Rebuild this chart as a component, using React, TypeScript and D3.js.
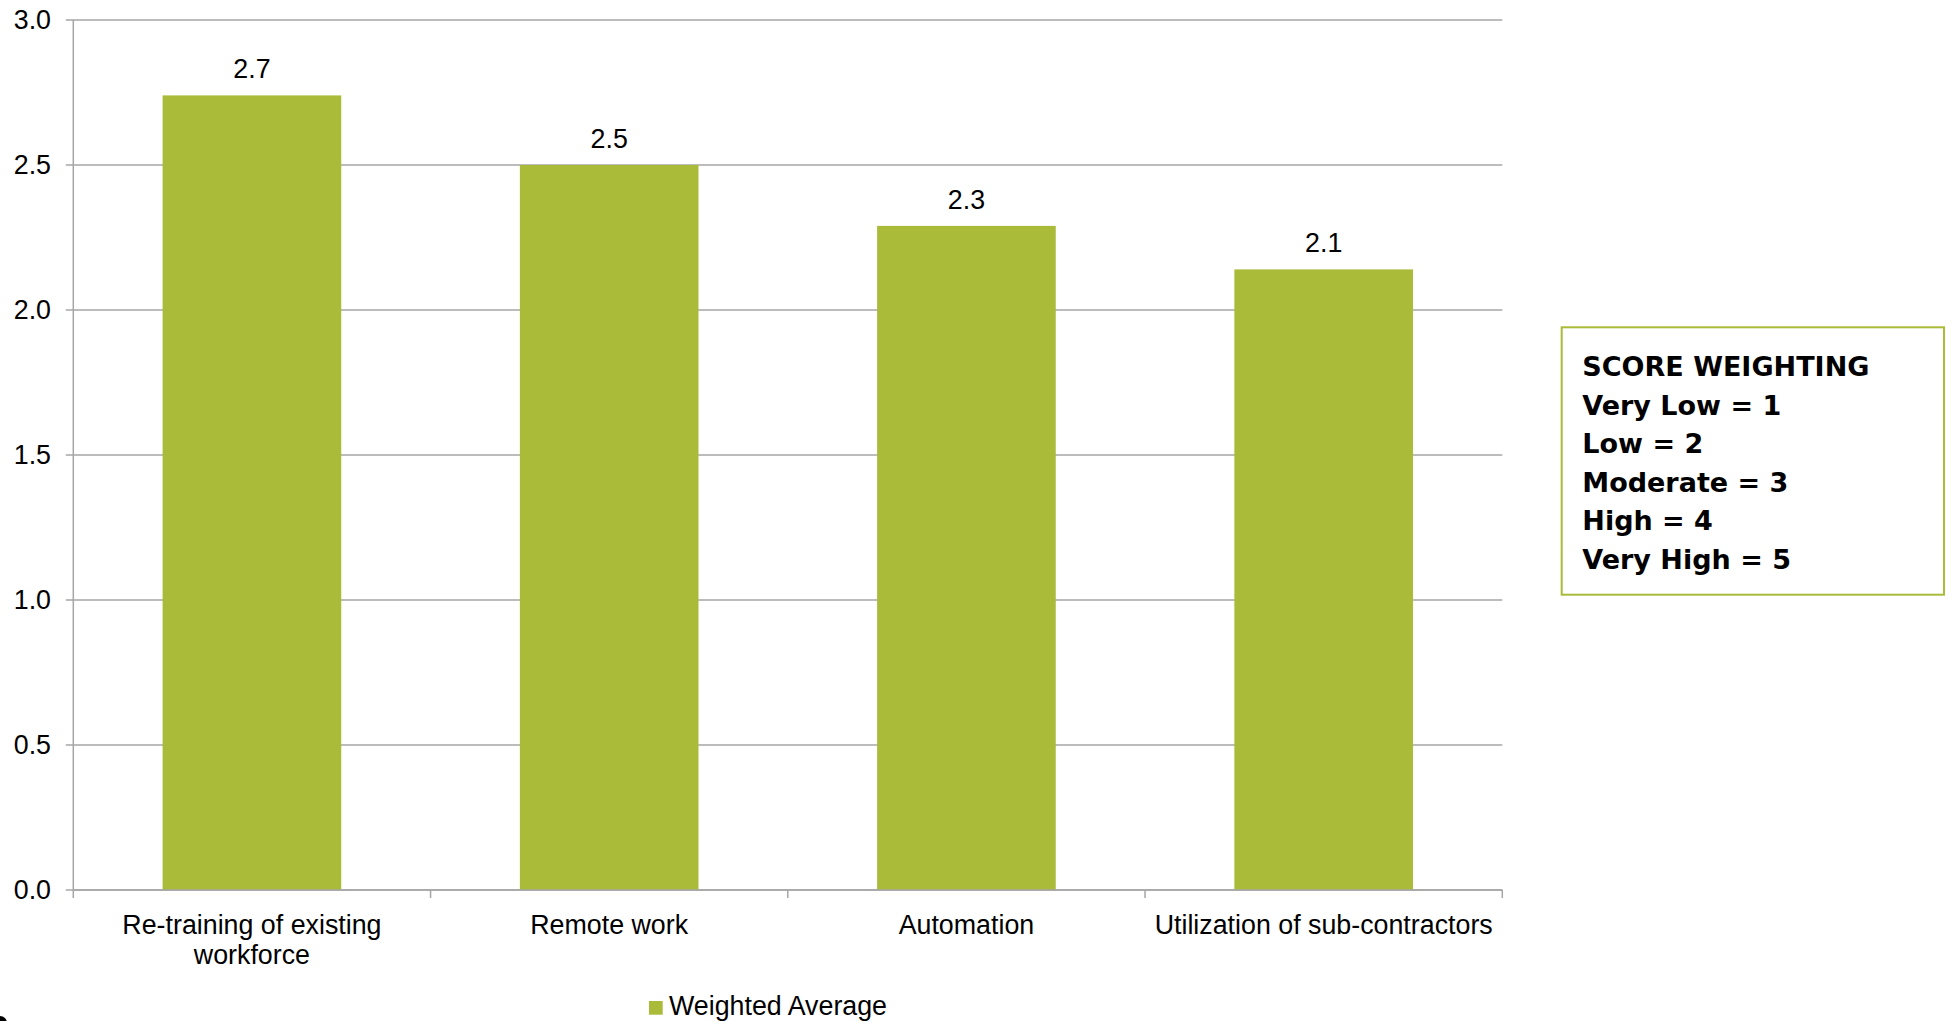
import React, { useEffect } from "react";
import * as d3 from "d3";

const categories = [
  "Re-training of existing workforce",
  "Remote work",
  "Automation",
  "Utilization of sub-contractors",
];
const categoryLines = [
  ["Re-training of existing", "workforce"],
  ["Remote work"],
  ["Automation"],
  ["Utilization of sub-contractors"],
];
const weightedAverage = [2.74, 2.5, 2.29, 2.14];
const valueLabels = ["2.7", "2.5", "2.3", "2.1"];
const yTicks = [0, 0.5, 1.0, 1.5, 2.0, 2.5, 3.0];
const seriesName = "Weighted Average";
const scoreLines = [
  "SCORE WEIGHTING",
  "Very Low = 1",
  "Low = 2",
  "Moderate = 3",
  "High = 4",
  "Very High = 5",
];

const W = 1946;
const H = 1021;
const M = { left: 73.3, right: 1502.3, top: 20, bottom: 890 };
const GREEN = "#a9bb38";
const GRID = "#a6a6a6";
const FONT = "'Liberation Sans', Arial, sans-serif";
const FS = 26.8;

export default function App() {
  useEffect(() => {
    document.body.style.margin = "0";
    document.body.style.overflow = "hidden";
  }, []);

  const x = d3
    .scaleBand<string>()
    .domain(categories)
    .range([M.left, M.right])
    .paddingInner(0.5)
    .paddingOuter(0.25);
  const y = d3.scaleLinear().domain([0, 3]).range([M.bottom, M.top]);
  const step = x.step();
  const boundaries = d3.range(categories.length + 1).map((i) => M.left + i * step);

  return (
    <svg width={W} height={H} style={{ position: "absolute", left: 0, top: 0, background: "#fff" }}>
      {yTicks.map((t) => (
        <g key={t}>
          <line x1={M.left - 7.5} x2={M.right} y1={y(t)} y2={y(t)} stroke={GRID} strokeWidth={1.5} />
          <text
            x={51}
            y={y(t)}
            dy="0.35em"
            textAnchor="end"
            fontFamily={FONT}
            fontSize={FS}
            fill="#000"
          >
            {d3.format(".1f")(t)}
          </text>
        </g>
      ))}
      <line x1={M.left} x2={M.left} y1={M.top} y2={M.bottom} stroke={GRID} strokeWidth={1.5} />
      {categories.map((c, i) => (
        <g key={c}>
          <rect
            x={x(c)}
            y={y(weightedAverage[i])}
            width={x.bandwidth()}
            height={y(0) - y(weightedAverage[i])}
            fill={GREEN}
          />
          <text
            x={(x(c) as number) + x.bandwidth() / 2}
            y={y(weightedAverage[i]) - 17}
            textAnchor="middle"
            fontFamily={FONT}
            fontSize={FS}
            fill="#000"
          >
            {valueLabels[i]}
          </text>
        </g>
      ))}
      <line x1={M.left} x2={M.right} y1={M.bottom} y2={M.bottom} stroke={GRID} strokeWidth={1.5} />
      {boundaries.map((bx, i) => (
        <line key={i} x1={bx} x2={bx} y1={M.bottom} y2={M.bottom + 8} stroke={GRID} strokeWidth={1.5} />
      ))}
      {categories.map((c, i) => (
        <text
          key={c}
          x={(x(c) as number) + x.bandwidth() / 2}
          y={933.5}
          textAnchor="middle"
          fontFamily={FONT}
          fontSize={FS}
          fill="#000"
        >
          {categoryLines[i].map((ln, j) => (
            <tspan key={j} x={(x(c) as number) + x.bandwidth() / 2} dy={j === 0 ? 0 : 30}>
              {ln}
            </tspan>
          ))}
        </text>
      ))}
      <rect x={649} y={1001} width={13.7} height={13.7} fill={GREEN} />
      <text x={669} y={1014.5} fontFamily={FONT} fontSize={FS} fill="#000">
        {seriesName}
      </text>
      <rect x={1561.7} y={327.3} width={382.3} height={267.4} fill="#fff" stroke={GREEN} strokeWidth={2} />
      {scoreLines.map((s, i) => (
        <text
          key={s}
          x={1582.3}
          y={376 + i * 38.5}
          fontFamily="'DejaVu Sans', sans-serif"
          fontWeight="bold"
          fontSize={27}
          fill="#000"
        >
          {s}
        </text>
      ))}
      <ellipse cx={0} cy={1023} rx={7} ry={7} fill="#000" />
    </svg>
  );
}
